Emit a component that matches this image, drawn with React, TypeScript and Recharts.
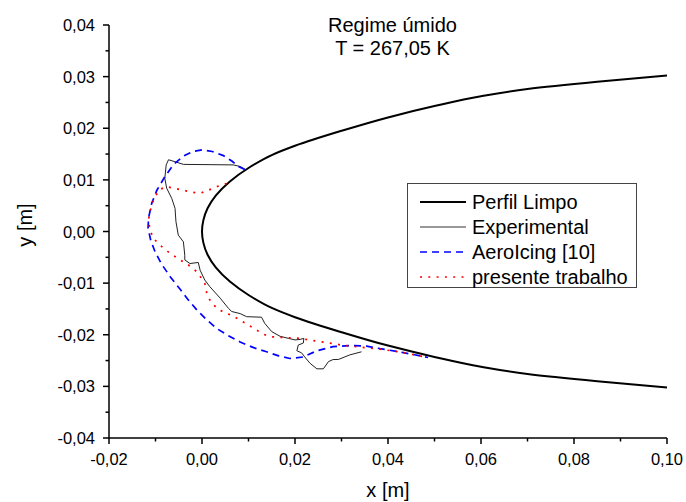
import React from "react";
import { LineChart, Line, XAxis, YAxis, Legend } from "recharts";

// clean airfoil contour, upper surface -> nose -> lower surface
const perfilLimpo = [
  { x: 0.1, y: 0.0302 }, { x: 0.085, y: 0.029 }, { x: 0.07, y: 0.0276 },
  { x: 0.06, y: 0.0262 }, { x: 0.05, y: 0.0243 }, { x: 0.04, y: 0.0221 },
  { x: 0.03, y: 0.0195 }, { x: 0.02, y: 0.0166 }, { x: 0.015, y: 0.0148 },
  { x: 0.01, y: 0.0123 }, { x: 0.006, y: 0.0097 }, { x: 0.003, y: 0.007 },
  { x: 0.0012, y: 0.0045 }, { x: 0.0003, y: 0.0022 }, { x: 0, y: 0 },
  { x: 0.0003, y: -0.0022 }, { x: 0.0012, y: -0.0045 }, { x: 0.003, y: -0.007 },
  { x: 0.006, y: -0.0097 }, { x: 0.01, y: -0.0123 }, { x: 0.015, y: -0.0148 },
  { x: 0.02, y: -0.0166 }, { x: 0.03, y: -0.0195 }, { x: 0.04, y: -0.0221 },
  { x: 0.05, y: -0.0243 }, { x: 0.06, y: -0.0262 }, { x: 0.07, y: -0.0276 },
  { x: 0.085, y: -0.029 }, { x: 0.1, y: -0.0302 },
];

const experimental = [
  { x: 0.0092, y: 0.0121 }, { x: 0.0082, y: 0.0126 }, { x: 0.0067, y: 0.0129 },
  { x: -0.004, y: 0.013 }, { x: -0.0054, y: 0.0134 }, { x: -0.0072, y: 0.0139 },
  { x: -0.0077, y: 0.0129 }, { x: -0.008, y: 0.0103 }, { x: -0.0076, y: 0.0084 },
  { x: -0.0065, y: 0.0064 }, { x: -0.0058, y: 0.0045 }, { x: -0.0056, y: 0.0019 },
  { x: -0.0051, y: -0.0007 }, { x: -0.004, y: -0.002 }, { x: -0.0037, y: -0.0046 },
  { x: -0.0037, y: -0.0055 }, { x: -0.0026, y: -0.0062 }, { x: -0.0008, y: -0.006 },
  { x: -0.0004, y: -0.0075 }, { x: 0.0006, y: -0.0094 }, { x: 0.0017, y: -0.0107 },
  { x: 0.0039, y: -0.0129 }, { x: 0.0057, y: -0.0149 }, { x: 0.0064, y: -0.0155 },
  { x: 0.0082, y: -0.0159 }, { x: 0.0096, y: -0.0165 }, { x: 0.0128, y: -0.0166 },
  { x: 0.0135, y: -0.0178 }, { x: 0.015, y: -0.0194 }, { x: 0.0168, y: -0.0203 },
  { x: 0.0186, y: -0.0207 }, { x: 0.02, y: -0.021 }, { x: 0.0211, y: -0.0209 },
  { x: 0.0219, y: -0.0207 }, { x: 0.0218, y: -0.0216 }, { x: 0.0207, y: -0.022 },
  { x: 0.0204, y: -0.0231 }, { x: 0.0214, y: -0.0235 }, { x: 0.0221, y: -0.0243 },
  { x: 0.0232, y: -0.0255 }, { x: 0.0247, y: -0.0266 }, { x: 0.0261, y: -0.0266 },
  { x: 0.0272, y: -0.0252 }, { x: 0.0282, y: -0.0248 }, { x: 0.0293, y: -0.0248 },
  { x: 0.0318, y: -0.0239 }, { x: 0.0343, y: -0.0233 },
];

const aeroIcing = [
  { x: 0.0092, y: 0.012 }, { x: 0.0078, y: 0.0126 }, { x: 0.0065, y: 0.0136 },
  { x: 0.0046, y: 0.0147 }, { x: 0.0022, y: 0.0155 }, { x: 0.0, y: 0.0158 },
  { x: -0.002, y: 0.0155 }, { x: -0.004, y: 0.0146 }, { x: -0.0062, y: 0.0129 },
  { x: -0.008, y: 0.0106 }, { x: -0.0097, y: 0.008 }, { x: -0.0108, y: 0.0055 },
  { x: -0.0115, y: 0.0026 }, { x: -0.0116, y: 0.0006 }, { x: -0.011, y: -0.0018 },
  { x: -0.0101, y: -0.0039 }, { x: -0.0087, y: -0.0063 }, { x: -0.0068, y: -0.0088 },
  { x: -0.0047, y: -0.0112 }, { x: -0.0029, y: -0.0133 }, { x: -0.0011, y: -0.0152 },
  { x: 0.001, y: -0.0171 }, { x: 0.0032, y: -0.0188 }, { x: 0.0057, y: -0.0202 },
  { x: 0.0082, y: -0.0214 }, { x: 0.0111, y: -0.0225 }, { x: 0.0139, y: -0.0233 },
  { x: 0.0165, y: -0.0241 }, { x: 0.0189, y: -0.0246 }, { x: 0.0218, y: -0.0243 },
  { x: 0.0247, y: -0.0231 }, { x: 0.0282, y: -0.0223 }, { x: 0.0318, y: -0.0221 },
  { x: 0.0354, y: -0.0222 }, { x: 0.0383, y: -0.0227 }, { x: 0.043, y: -0.0234 },
  { x: 0.0486, y: -0.0244 },
];

const presenteTrabalho = [
  { x: 0.0053, y: 0.0093 }, { x: 0.0032, y: 0.0087 }, { x: 0.0014, y: 0.008 },
  { x: -0.0004, y: 0.0074 }, { x: -0.0022, y: 0.0076 }, { x: -0.004, y: 0.008 },
  { x: -0.0062, y: 0.0084 }, { x: -0.0076, y: 0.0087 }, { x: -0.0092, y: 0.0081 },
  { x: -0.0104, y: 0.0062 }, { x: -0.0112, y: 0.0038 }, { x: -0.0115, y: 0.0022 },
  { x: -0.0112, y: 0.0004 }, { x: -0.0105, y: -0.0013 }, { x: -0.0087, y: -0.0029 },
  { x: -0.0069, y: -0.0042 }, { x: -0.0049, y: -0.0054 }, { x: -0.0029, y: -0.0065 },
  { x: -0.0011, y: -0.0078 }, { x: 0.0006, y: -0.01 }, { x: 0.0011, y: -0.0123 },
  { x: 0.0021, y: -0.0139 }, { x: 0.0037, y: -0.0152 }, { x: 0.0057, y: -0.016 },
  { x: 0.0075, y: -0.0168 }, { x: 0.0092, y: -0.0177 }, { x: 0.0112, y: -0.0188 },
  { x: 0.0132, y: -0.0199 }, { x: 0.015, y: -0.0204 }, { x: 0.0168, y: -0.0205 },
  { x: 0.0189, y: -0.0206 }, { x: 0.0211, y: -0.0207 }, { x: 0.0243, y: -0.0212 },
  { x: 0.0281, y: -0.0217 }, { x: 0.03, y: -0.022 }, { x: 0.034, y: -0.0224 },
  { x: 0.0383, y: -0.0228 }, { x: 0.043, y: -0.0234 }, { x: 0.0486, y: -0.0244 },
];

const xTicks = [-0.02, -0.01, 0, 0.01, 0.02, 0.03, 0.04, 0.05, 0.06, 0.07, 0.08, 0.09, 0.1];
const yTicks = [
  -0.04, -0.035, -0.03, -0.025, -0.02, -0.015, -0.01, -0.005, 0,
  0.005, 0.01, 0.015, 0.02, 0.025, 0.03, 0.035, 0.04,
];

const legendItems = [
  { label: "Perfil Limpo", color: "#000", width: 2, dash: undefined },
  { label: "Experimental", color: "#333", width: 1, dash: undefined },
  { label: "AeroIcing [10]", color: "#0000ff", width: 1.7, dash: "7 5" },
  { label: "presente trabalho", color: "#ff0000", width: 1.7, dash: "2 6.3" },
];

const FONT = "Arial, 'Liberation Sans', sans-serif";
const W = 678;
const H = 494;
const PLOT_LEFT = 101;
const PLOT_BOTTOM = 430;

const fmt = (v: number) => v.toFixed(2).replace(".", ",");

const XTick = (props: any) => {
  const { x, index, payload } = props;
  const major = index % 2 === 0;
  return (
    <g>
      <line x1={x} x2={x} y1={PLOT_BOTTOM} y2={PLOT_BOTTOM + (major ? 6 : 3.5)} stroke="#000" strokeWidth={1.5} />
      {major && (
        <text x={x} y={PLOT_BOTTOM + 27} textAnchor="middle" fontSize={16.5} fontFamily={FONT} fill="#000">
          {fmt(payload.value)}
        </text>
      )}
    </g>
  );
};

const YTick = (props: any) => {
  const { y, index, payload } = props;
  const major = index % 2 === 0;
  return (
    <g>
      <line x1={PLOT_LEFT} x2={PLOT_LEFT - (major ? 6 : 3.5)} y1={y} y2={y} stroke="#000" strokeWidth={1.5} />
      {major && (
        <text x={PLOT_LEFT - 14} y={y + 6} textAnchor="end" fontSize={16.5} fontFamily={FONT} fill="#000">
          {fmt(payload.value)}
        </text>
      )}
    </g>
  );
};

const LegendBox = () => (
  <svg width={230} height={105}>
    <rect x={0.5} y={0.5} width={229} height={104} fill="#fff" stroke="#444" strokeWidth={1} />
    {legendItems.map((it, i) => (
      <g key={it.label}>
        <line x1={13} x2={59} y1={19 + i * 25} y2={19 + i * 25} stroke={it.color} strokeWidth={it.width} strokeDasharray={it.dash} />
        <text x={65} y={26 + i * 25} fontSize={20} fontFamily={FONT} fill="#000">
          {it.label}
        </text>
      </g>
    ))}
  </svg>
);

export default function App() {
  return (
    <div style={{ position: "relative", width: 686, height: 502 }}>
      {/* the page's default 8px margin is replaced by an explicit offset so nothing is clipped */}
      <style>{"body{margin:0}"}</style>
      <div style={{ position: "absolute", left: 8, top: 8, width: W, height: H }}>
        <LineChart width={W} height={H} margin={{ top: 17, right: 19, left: 0, bottom: 0 }}>
          <XAxis
            type="number"
            dataKey="x"
            domain={[-0.02, 0.1]}
            ticks={xTicks}
            interval={0}
            height={64}
            tickSize={0}
            tickMargin={0}
            tickLine={false}
            axisLine={{ stroke: "#000", strokeWidth: 1.5 }}
            tick={XTick}
          />
          <YAxis
            type="number"
            dataKey="y"
            domain={[-0.04, 0.04]}
            ticks={yTicks}
            interval={0}
            width={101}
            tickSize={0}
            tickMargin={0}
            tickLine={false}
            axisLine={{ stroke: "#000", strokeWidth: 1.5 }}
            tick={YTick}
            label={{
              content: () => (
                <text x={24} y={217} transform="rotate(-90 24 217)" textAnchor="middle" fontSize={20} fontFamily={FONT} fill="#000">
                  y [m]
                </text>
              ),
            }}
          />
          <Legend
            layout="vertical"
            align="center"
            verticalAlign="middle"
            wrapperStyle={{ left: 399, top: 175, width: 230, height: 105 }}
            content={LegendBox}
          />
          <Line data={perfilLimpo} dataKey="y" type="monotoneY" stroke="#000" strokeWidth={2} dot={false} activeDot={false} isAnimationActive={false} />
          <Line data={experimental} dataKey="y" type="linear" stroke="#222" strokeWidth={1} dot={false} activeDot={false} isAnimationActive={false} />
          <Line data={aeroIcing} dataKey="y" type="linear" stroke="#0000ff" strokeWidth={1.7} strokeDasharray="7 5" dot={false} activeDot={false} isAnimationActive={false} />
          <Line data={presenteTrabalho} dataKey="y" type="linear" stroke="#ff0000" strokeWidth={1.7} strokeDasharray="2 6.3" dot={false} activeDot={false} isAnimationActive={false} />
        </LineChart>
        <svg width={W} height={H} style={{ position: "absolute", left: 0, top: 0, pointerEvents: "none" }}>
          <text x={384.5} y={23.5} textAnchor="middle" fontSize={20} fontFamily={FONT} fill="#000">
            Regime úmido
          </text>
          <text x={384.5} y={46.5} textAnchor="middle" fontSize={20} fontFamily={FONT} fill="#000">
            T = 267,05 K
          </text>
          <text x={380} y={489} textAnchor="middle" fontSize={20} fontFamily={FONT} fill="#000">
            x [m]
          </text>
        </svg>
      </div>
    </div>
  );
}
